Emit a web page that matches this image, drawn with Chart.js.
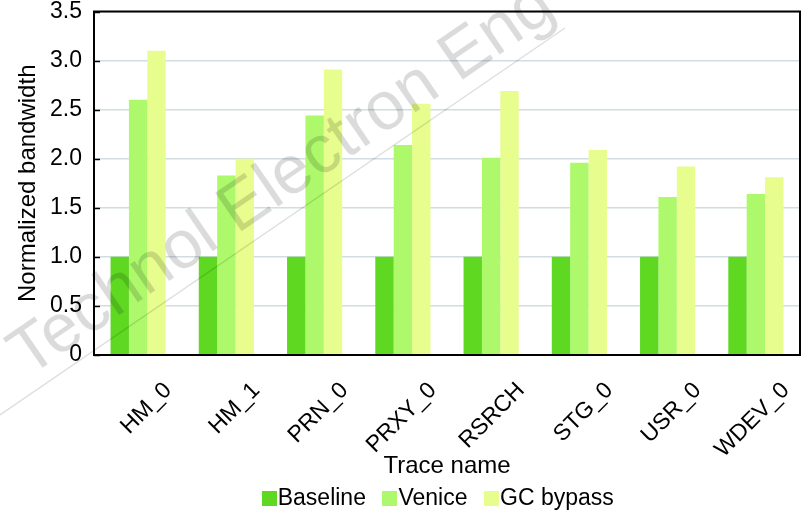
<!DOCTYPE html>
<html>
<head>
<meta charset="utf-8">
<script src="https://cdn.jsdelivr.net/npm/chart.js@4/dist/chart.umd.min.js"></script>
<style>
  html, body { margin: 0; padding: 0; background: #ffffff; }
  #wrap { width: 805px; height: 515px; }
</style>
</head>
<body>
<div id="wrap"><canvas id="c"></canvas></div>
<script>
// Categories and series
const traceNames = ['HM_0', 'HM_1', 'PRN_0', 'PRXY_0', 'RSRCH', 'STG_0', 'USR_0', 'WDEV_0'];
const baselineValues = [1.00, 1.00, 1.00, 1.00, 1.00, 1.00, 1.00, 1.00];
const veniceValues = [2.60, 1.83, 2.44, 2.14, 2.01, 1.96, 1.61, 1.64];
const gcBypassValues = [3.10, 2.00, 2.91, 2.56, 2.69, 2.09, 1.92, 1.81];
const yTickValues = [0, 0.5, 1.0, 1.5, 2.0, 2.5, 3.0, 3.5];

const FONT = 'Liberation Sans, Arial, Helvetica, sans-serif';
const LEGEND_BOX = 15;

// Black frame round the plot area plus short inward ticks on the value axis
const framePlugin = {
  id: 'frame',
  afterDatasetsDraw(chart) {
    const { ctx, chartArea: a, scales } = chart;
    ctx.save();
    ctx.strokeStyle = '#000000';
    ctx.lineWidth = 2;
    ctx.strokeRect(a.left, a.top, a.right - a.left, a.bottom - a.top);
    ctx.lineWidth = 1.5;
    yTickValues.forEach(v => {
      const y = Math.round(scales.y.getPixelForValue(v)) + 0.5;
      ctx.beginPath();
      ctx.moveTo(a.left, y);
      ctx.lineTo(a.left + 6, y);
      ctx.stroke();
    });
    ctx.restore();
  }
};

// Legend: move the row under the plot centre and draw square swatches
// tight against each label
const legendPlugin = {
  id: 'legendSwatches',
  afterLayout(chart) {
    const lg = chart.legend;
    lg.left += 40;
    lg.right += 40;
    lg.top -= 19;
  },
  afterDraw(chart) {
    const lg = chart.legend;
    if (!lg || !lg.legendHitBoxes) return;
    const ctx = chart.ctx;
    const half = lg.options.labels.font.size / 2;
    ctx.save();
    lg.legendHitBoxes.forEach((hb, i) => {
      const textX = hb.left + half;
      const cy = hb.top + hb.height / 2;
      ctx.fillStyle = chart.data.datasets[i].backgroundColor;
      ctx.fillRect(Math.round(textX - LEGEND_BOX - 1), Math.round(cy - LEGEND_BOX / 2), LEGEND_BOX, LEGEND_BOX);
    });
    ctx.restore();
  }
};

// Diagonal journal watermark laid over the chart
const watermarkPlugin = {
  id: 'watermark',
  afterDraw(chart) {
    const ctx = chart.ctx;
    const x0 = 0, y0 = 415, x1 = 565, y1 = 28;
    const ang = Math.atan2(y1 - y0, x1 - x0);
    const len = Math.hypot(x1 - x0, y1 - y0);
    ctx.save();
    ctx.translate(x0, y0);
    ctx.rotate(ang);
    ctx.strokeStyle = 'rgba(0,0,0,0.13)';
    ctx.lineWidth = 1.5;
    ctx.beginPath();
    ctx.moveTo(0, 0);
    ctx.lineTo(len, 0);
    ctx.stroke();
    ctx.fillStyle = 'rgba(0,0,0,0.14)';
    ctx.font = '68px ' + FONT;
    ctx.textBaseline = 'alphabetic';
    ctx.textAlign = 'right';
    ctx.fillText('Technol Electron Eng', len + 2, -15);
    ctx.restore();
  }
};

new Chart(document.getElementById('c'), {
  type: 'bar',
  data: {
    labels: traceNames,
    datasets: [
      { label: 'Baseline', data: baselineValues, backgroundColor: '#5ed821' },
      { label: 'Venice', data: veniceValues, backgroundColor: '#adf96b' },
      { label: 'GC bypass', data: gcBypassValues, backgroundColor: '#e7fd8d' }
    ]
  },
  options: {
    responsive: true,
    maintainAspectRatio: false,
    animation: false,
    devicePixelRatio: 1,
    datasets: { bar: { barPercentage: 1.0, categoryPercentage: 0.625, borderWidth: 0 } },
    layout: { padding: { top: 0, right: 5, left: 0, bottom: 0 } },
    plugins: {
      tooltip: { enabled: false },
      legend: {
        position: 'bottom',
        maxHeight: 30,
        labels: {
          color: '#000000',
          font: { family: FONT, size: 23 },
          boxWidth: 0,
          boxHeight: 15,
          padding: 21
        }
      }
    },
    scales: {
      x: {
        grid: { display: false, drawTicks: false },
        border: { display: false },
        ticks: {
          color: '#000000',
          font: { family: FONT, size: 23 },
          minRotation: 45,
          maxRotation: 45,
          autoSkip: false,
          padding: 22,
          labelOffset: 30
        },
        title: {
          display: true,
          text: 'Trace name',
          color: '#000000',
          font: { family: FONT, size: 24 },
          padding: { top: 0, bottom: 4 }
        },
        afterFit(scale) { scale.height = 130; }
      },
      y: {
        min: 0,
        max: 3.5,
        afterBuildTicks(scale) { scale.ticks = yTickValues.map(v => ({ value: v })); },
        grid: { color: '#d2dde1', lineWidth: 1.5, drawTicks: true, tickLength: 12, tickColor: 'rgba(0,0,0,0)' },
        border: { display: false },
        ticks: {
          color: '#000000',
          font: { family: FONT, size: 23, lineHeight: 1.0 },
          padding: 0,
          callback: v => (v === 0 ? '0' : Number(v).toFixed(1))
        },
        title: {
          display: true,
          text: 'Normalized bandwidth',
          color: '#000000',
          font: { family: FONT, size: 24 },
          padding: { top: 14, bottom: 0 }
        },
        afterFit(scale) { scale.width = 94; }
      }
    }
  },
  plugins: [framePlugin, legendPlugin, watermarkPlugin]
});
</script>
</body>
</html>
